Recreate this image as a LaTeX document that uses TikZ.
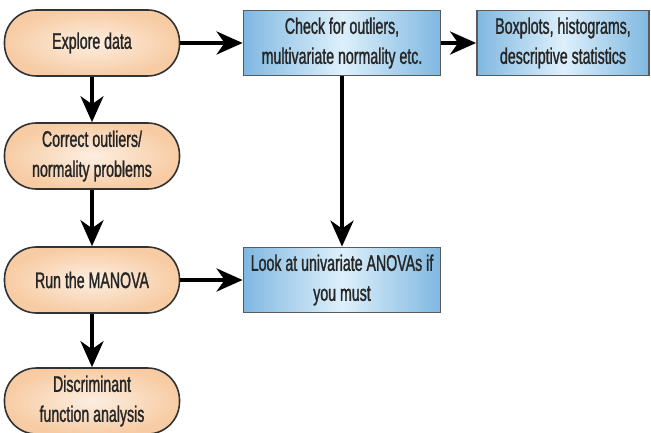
\documentclass[tikz,border=0pt]{standalone}
\usepackage{fontspec}
\setmainfont[FakeStretch=0.63,FakeBold=1.2]{Liberation Sans}
\usetikzlibrary{arrows.meta}
\definecolor{peach}{HTML}{F7CCA4}
\definecolor{peachlight}{HTML}{FDEEE1}
\definecolor{sky}{HTML}{80B8E1}
\definecolor{skylight}{HTML}{DDF0FB}
\definecolor{ink}{HTML}{262626}
\begin{document}
\begin{tikzpicture}[x=1pt,y=1pt,
	every node/.style={align=center,text=ink,font=\fontsize{22.5}{30}\selectfont},
	pill/.style={rectangle,rounded corners=32pt,draw=black!80,line width=1.6pt,
		minimum width=175pt,minimum height=66pt,inner color=peachlight,outer color=peach},
	note/.style={rectangle,draw=black!65,line width=1.8pt,minimum height=65pt,
		left color=sky,right color=sky,middle color=skylight},
	arr/.style={line width=3.8pt,-{Stealth[length=26pt,width=23pt,inset=8pt]}}]
	\useasboundingbox (0,0) rectangle (651,-433);
	% left column
	\node[pill] (explore) at (92,-43) {Explore data};
	\node[pill] (correct) at (92,-156) {Correct outliers/\\normality problems};
	\node[pill] (manova) at (92,-280) {Run the MANOVA};
	\node[pill] (discrim) at (92,-401) {Discriminant\\function analysis};
	% blue boxes
	\node[note,minimum width=197pt] (check) at (342,-43) {Check for outliers,\\multivariate normality etc.};
	\node[note,minimum width=172pt] (boxplots) at (563,-43) {Boxplots, histograms,\\descriptive statistics};
	\node[note,minimum width=197pt] (anova) at (342,-280) {Look at univariate ANOVAs if\\you must};
	\foreach \a/\b in {explore/correct,correct/manova,manova/discrim,explore/check,check/boxplots,check/anova,manova/anova}
		\draw[arr] (\a) -- (\b);
\end{tikzpicture}
\end{document}
